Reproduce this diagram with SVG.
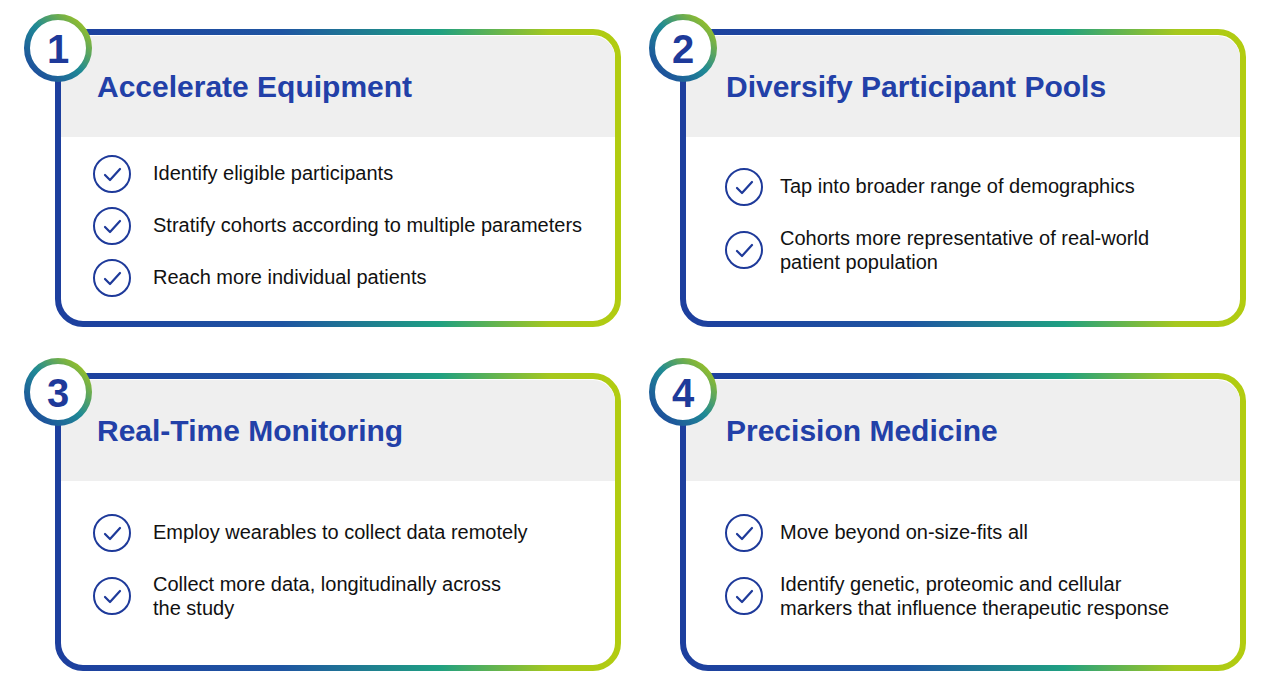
<svg xmlns="http://www.w3.org/2000/svg" width="1280" height="700" viewBox="0 0 1280 700">
<defs>
<linearGradient id="g" x1="0" y1="0" x2="1" y2="0">
<stop offset="0" stop-color="#1d3f9e"/><stop offset="0.4" stop-color="#1f55a2"/><stop offset="0.68" stop-color="#1fa082"/><stop offset="0.88" stop-color="#a6c81e"/><stop offset="1" stop-color="#b2cc10"/>
</linearGradient>
<linearGradient id="gc" x1="0" y1="1" x2="1" y2="0">
<stop offset="0" stop-color="#1d3f9e"/><stop offset="0.5" stop-color="#1f8a95"/><stop offset="1" stop-color="#b2cc10"/>
</linearGradient>
<symbol id="chk" overflow="visible"><circle cx="0" cy="0" r="18" fill="none" stroke="#1e3a9a" stroke-width="2"/><path d="M-7,1 L-2,6 L8,-5" fill="none" stroke="#1e3a9a" stroke-width="2.2" stroke-linecap="round" stroke-linejoin="round"/></symbol>
</defs>
<style>
.frame{fill:#fff;stroke:url(#g);stroke-width:6}
.hdr{fill:#efefef}
.badge{fill:#fff;stroke:url(#gc);stroke-width:6}
.num{font-family:"Liberation Sans",Arial,sans-serif;font-weight:bold;font-size:40px;fill:#1e3a9a;text-anchor:middle}
.ttl{font-family:"Liberation Sans",Arial,sans-serif;font-weight:bold;font-size:30px;fill:#2240a8}
.txt{font-family:"Liberation Sans",Arial,sans-serif;font-size:20px;fill:#111}
</style>
<g id="card1">
<rect class="frame" x="58" y="32" width="560" height="292" rx="25"/>
<path class="hdr" d="M61,137 V58 a22,22 0 0 1 22,-22 H593 a22,22 0 0 1 22,22 V137 Z"/>
<circle class="badge" cx="58" cy="48" r="31"/><text class="num" x="58" y="63">1</text>
<text class="ttl" x="97" y="97">Accelerate Equipment</text>
<use href="#chk" x="112" y="174"/><text class="txt" x="153" y="180">Identify eligible participants</text>
<use href="#chk" x="112" y="226"/><text class="txt" x="153" y="232">Stratify cohorts according to multiple parameters</text>
<use href="#chk" x="112" y="278"/><text class="txt" x="153" y="284">Reach more individual patients</text>
</g>
<g id="card2">
<rect class="frame" x="683" y="32" width="560" height="292" rx="25"/>
<path class="hdr" d="M686,137 V58 a22,22 0 0 1 22,-22 H1218 a22,22 0 0 1 22,22 V137 Z"/>
<circle class="badge" cx="683" cy="48" r="31"/><text class="num" x="683" y="63">2</text>
<text class="ttl" x="726" y="97">Diversify Participant Pools</text>
<use href="#chk" x="744" y="187"/><text class="txt" x="780" y="193">Tap into broader range of demographics</text>
<use href="#chk" x="744" y="250"/><text class="txt" x="780" y="245">Cohorts more representative of real-world</text><text class="txt" x="780" y="269">patient population</text>
</g>
<g id="card3">
<rect class="frame" x="58" y="376" width="560" height="292" rx="25"/>
<path class="hdr" d="M61,481 V402 a22,22 0 0 1 22,-22 H593 a22,22 0 0 1 22,22 V481 Z"/>
<circle class="badge" cx="58" cy="392" r="31"/><text class="num" x="58" y="407">3</text>
<text class="ttl" x="97" y="441">Real-Time Monitoring</text>
<use href="#chk" x="112" y="533"/><text class="txt" x="153" y="539">Employ wearables to collect data remotely</text>
<use href="#chk" x="112" y="596"/><text class="txt" x="153" y="591">Collect more data, longitudinally across</text><text class="txt" x="153" y="615">the study</text>
</g>
<g id="card4">
<rect class="frame" x="683" y="376" width="560" height="292" rx="25"/>
<path class="hdr" d="M686,481 V402 a22,22 0 0 1 22,-22 H1218 a22,22 0 0 1 22,22 V481 Z"/>
<circle class="badge" cx="683" cy="392" r="31"/><text class="num" x="683" y="407">4</text>
<text class="ttl" x="726" y="441">Precision Medicine</text>
<use href="#chk" x="744" y="533"/><text class="txt" x="780" y="539">Move beyond on-size-fits all</text>
<use href="#chk" x="744" y="596"/><text class="txt" x="780" y="591">Identify genetic, proteomic and cellular</text><text class="txt" x="780" y="615">markers that influence therapeutic response</text>
</g>
<g id="connectors"/>
</svg>
